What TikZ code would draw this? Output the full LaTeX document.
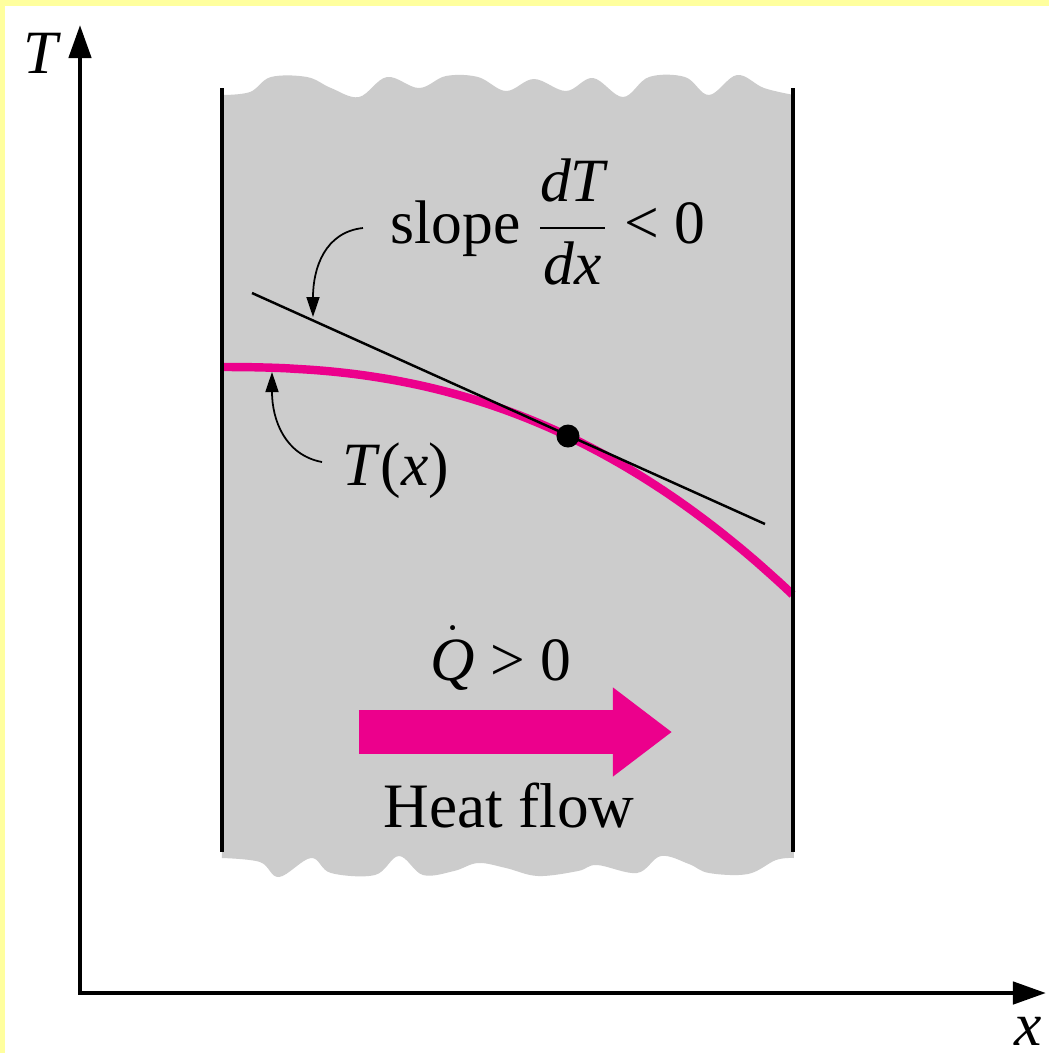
\documentclass[tikz,border=0pt]{standalone}
\usepackage{amsmath}
\usepackage{fontspec}
\setmainfont{Liberation Serif}
\usetikzlibrary{arrows.meta}

\definecolor{slabgray}{RGB}{204,204,204}
\definecolor{heatpink}{RGB}{236,0,140}
\definecolor{frameyellow}{RGB}{255,255,158}

\begin{document}
\begin{tikzpicture}[
    x=0.01cm, y=-0.01cm,
    lbl/.style={inner sep=0pt, font=\fontsize{17.5}{20}\selectfont},
    axis/.style={line width=1.3pt,
        {Triangle[length=0.33cm, width=0.22cm]}-{Triangle[length=0.33cm, width=0.22cm]}},
    wall/.style={line width=1pt},
    pointer/.style={line width=0.5pt, -{Triangle[length=0.2cm, width=0.13cm]}},
    profile/.style={heatpink, line width=2.4pt}
]

% frame
\fill[frameyellow] (0,0) rectangle (1049,1053);
\fill[white] (5,6) rectangle (1049,1053);
\useasboundingbox (0,0) rectangle (1049,1053);

% slab with broken top and bottom edges
\fill[slabgray]
    plot[smooth, tension=0.6] coordinates {(222,95) (250,92) (271,77) (307,77) (331,88)
        (359,97) (387,77) (419,88) (446,76) (478,77) (506,91) (534,79) (566,91)
        (593,78) (623,97) (649,77) (685,77) (709,95) (737,75) (764,88) (794,95)}
    -- plot[smooth, tension=0.6] coordinates {(794,858) (776,860) (748,874) (709,873)
        (689,864) (661,856) (637,873) (597,865) (578,871) (538,876) (506,868)
        (478,863) (454,871) (423,875) (399,856) (375,875) (331,873) (311,858)
        (279,877) (260,862) (222,858)}
    -- cycle;

% temperature profile and tangent
\draw[profile] plot[domain=0.001:1, samples=80] ({222+571*\x}, {367+228*pow(\x,2.38)});
\coordinate (tanA) at (252,293);
\coordinate (tanB) at (765,524);
\draw[line width=0.7pt] (tanA) -- (tanB);
\node[circle, fill, minimum size=0.23cm, inner sep=0pt] (pt) at (568,436) {};

% walls
\draw[wall] (222,88) -- (222,852);
\draw[wall] (793,88) -- (793,852);

% axes
\coordinate (O) at (80,993);
\coordinate (Ttip) at (80,25);
\coordinate (xtip) at (1046,993);
\draw[axis] (Ttip) -- (O) -- (xtip);
\node[lbl, anchor=base] (Tlbl) at (42,73) {\textit{T}};
\node[lbl, anchor=base] (xlbl) at (1028,1045) {\textit{x}};

% labels
\node[lbl, anchor=base west] (slopelbl) at (390,243)
    {slope $\dfrac{\textit{dT}}{\textit{dx}}$ < 0};
\node[lbl, anchor=base west] (Txlbl) at (342,485) {\textit{T}(\textit{x})};

\coordinate (slopetail) at (363,228);
\coordinate (slopetip) at (313,317);
\draw[pointer] (slopetail) .. controls (325,232) and (313,268) .. (slopetip);
\coordinate (Txtail) at (322,462);
\coordinate (Txtip) at (272,372);
\draw[pointer] (Txtail) .. controls (285,455) and (272,420) .. (Txtip);

% heat flow
\coordinate (flowtail) at (359,732);
\coordinate (flowtip) at (672,732);
\draw[heatpink, line width=0.44cm, -{Triangle[length=0.59cm, width=0.85cm]}] (flowtail) -- (flowtip);
\node[lbl, anchor=base] (Qlbl) at (501,680) {$\dot{\textit{Q}}$ > 0};
\node[lbl, anchor=base, font=\fontsize{18}{21}\selectfont] (flowlbl) at (509,827) {Heat flow};

\end{tikzpicture}
\end{document}
